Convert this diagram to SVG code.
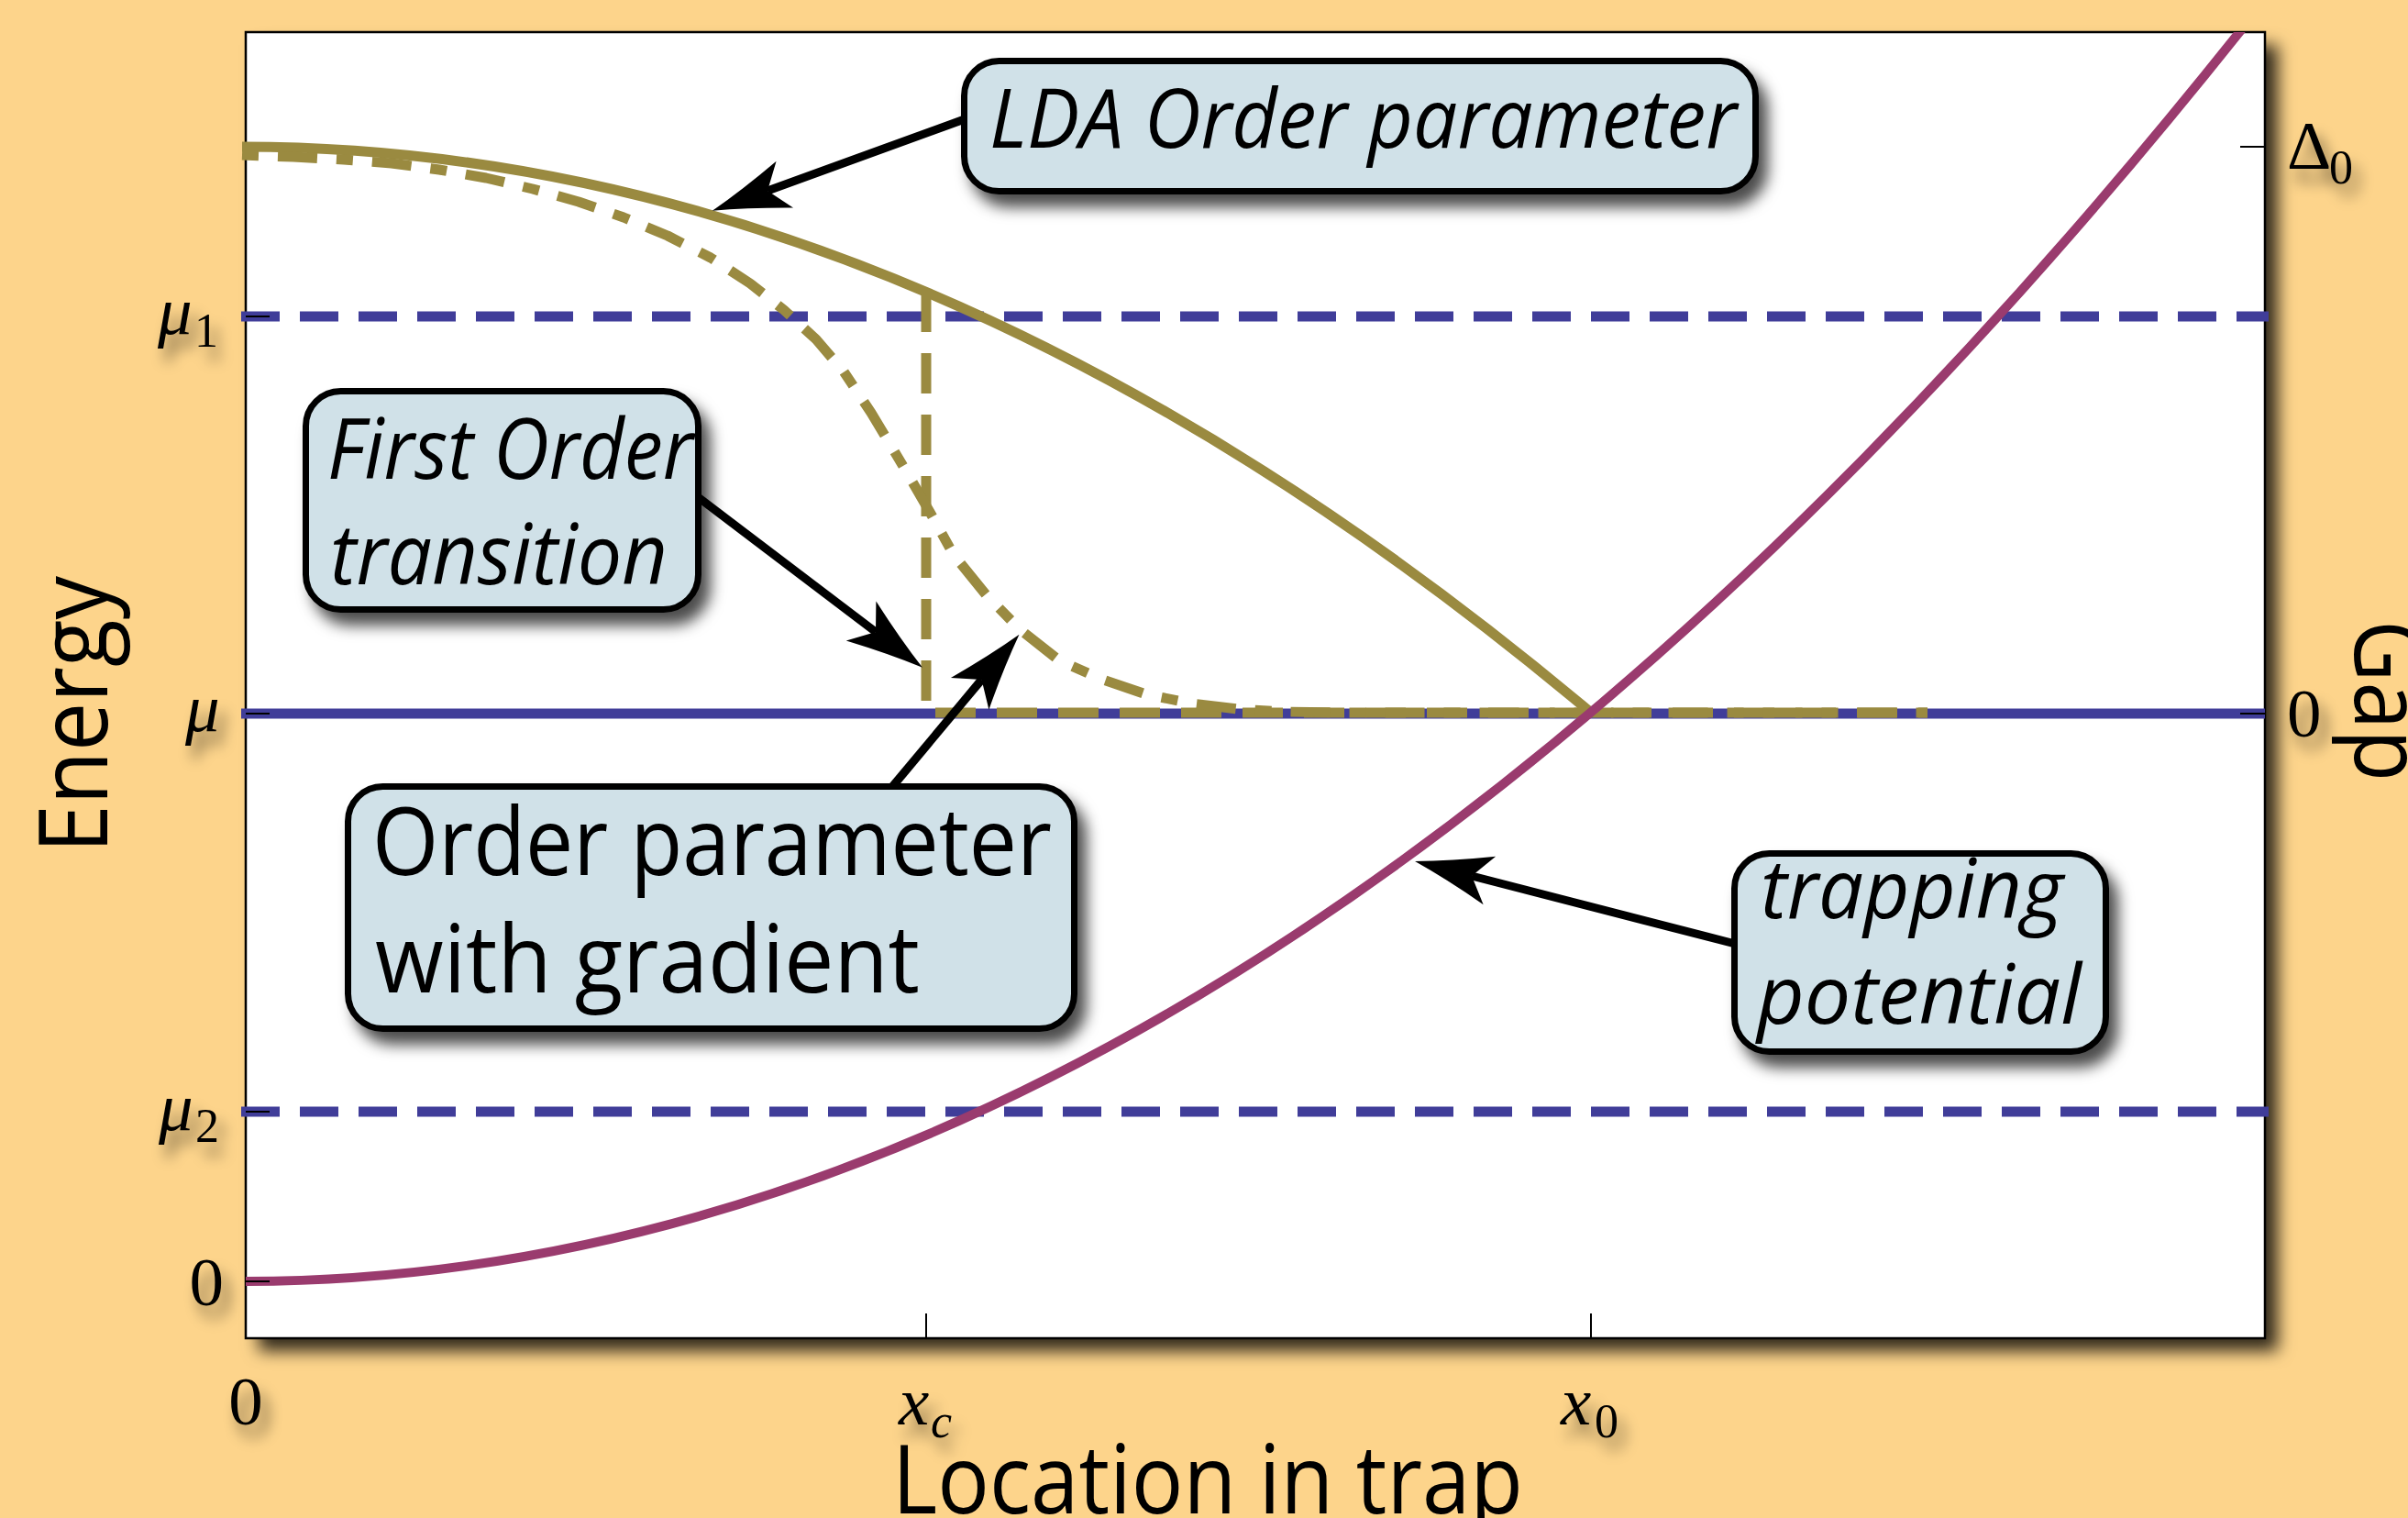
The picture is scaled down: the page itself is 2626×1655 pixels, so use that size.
<svg xmlns="http://www.w3.org/2000/svg" width="2626" height="1655" viewBox="0 0 2626 1655">
<defs>
<style>
.box{fill:#d0e1e8;stroke:#000;stroke-width:7}
.bt{font-family:"Open Sans","Liberation Sans",sans-serif;fill:#000}
.it{font-style:italic}
.tk{font-family:"Liberation Serif","Times New Roman",serif;font-size:75px;fill:#000}
.sub{font-size:52px}
.ax{font-family:"Open Sans","Liberation Sans",sans-serif;font-size:105px;fill:#000}
.tick{stroke:#000;stroke-width:2;fill:none}
.blue{stroke:#403d99;stroke-width:11;fill:none}
.gold{stroke:#9a8a40;stroke-width:11;fill:none}
.trap{stroke:#9a3b6e;stroke-width:10;fill:none}
.arrow{stroke:#000;stroke-width:9;fill:none;marker-end:url(#ah)}
</style>
<marker id="ah" markerUnits="userSpaceOnUse" viewBox="0 0 84 54" markerWidth="84" markerHeight="54" refX="20" refY="27" orient="auto" overflow="visible">
<path d="M84,27 Q46,17 0,0 L20,27 L0,54 Q46,37 84,27 Z" fill="#000"/>
</marker>
<filter id="plotShadow" x="-5%" y="-5%" width="115%" height="115%">
<feDropShadow dx="14" dy="14" stdDeviation="9" flood-color="#000" flood-opacity="0.8"/>
</filter>
<filter id="boxShadow" x="-20%" y="-20%" width="150%" height="160%">
<feDropShadow dx="10" dy="14" stdDeviation="8" flood-color="#000" flood-opacity="0.7"/>
</filter>
<filter id="txtShadow" x="-60%" y="-60%" width="260%" height="260%">
<feGaussianBlur in="SourceAlpha" stdDeviation="8" result="b"/>
<feOffset in="b" dx="8" dy="14" result="o"/>
<feComponentTransfer in="o" result="s"><feFuncA type="linear" slope="0.55"/></feComponentTransfer>
<feMerge><feMergeNode in="s"/><feMergeNode in="SourceGraphic"/></feMerge>
</filter>
<clipPath id="plotClip"><rect x="268" y="35" width="2202" height="1424"/></clipPath>
</defs>

<rect width="2626" height="1655" fill="#fdd48b"/>

<g id="plot-frame">
<rect x="268" y="35" width="2202" height="1424" fill="#fff" filter="url(#plotShadow)"/>
<rect x="268" y="35" width="2202" height="1424" fill="none" stroke="#000" stroke-width="2.5"/>
</g>

<g id="levels">
<line class="blue" x1="263" y1="345" x2="2474" y2="345" stroke-dasharray="42 22"/>
<line class="blue" x1="263" y1="778" x2="2470" y2="778"/>
<line class="blue" x1="263" y1="1212" x2="2474" y2="1212" stroke-dasharray="42 22"/>
</g>

<g id="order-parameter-curves">
<path id="lda" class="gold" d="M264,160 Q1001,160 1735,777"/>
<path id="first-order" class="gold" stroke-width="10" stroke-dasharray="44 23" d="M1010,318 L1010,777 L2102,777"/>
<polyline id="gradient" class="gold" stroke-width="10" stroke-dasharray="18 21 43 21" stroke-linejoin="round" points="264,169 320,171 375,174 427,178 479,185 530,194 581,206 631,220 680,237 728,257 775,281 818,309 855,338 890,370 920,405 950,450 986,510 1015,560 1040,605 1075,648 1112,686 1155,720 1200,740 1250,757 1300,767 1350,773 1400,776 1460,777 2102,777"/>
</g>

<g id="trapping-curve" clip-path="url(#plotClip)">
<path class="trap" d="M264,1397 Q1369,1397 2470,0"/>
</g>

<g id="ticks">
<line class="tick" x1="268" y1="345" x2="294" y2="345"/>
<line class="tick" x1="268" y1="778" x2="294" y2="778"/>
<line class="tick" x1="268" y1="1212" x2="294" y2="1212"/>
<line class="tick" x1="268" y1="1397" x2="294" y2="1397"/>
<line class="tick" x1="2443" y1="160" x2="2470" y2="160"/>
<line class="tick" x1="2443" y1="778" x2="2470" y2="778"/>
<line class="tick" x1="1010" y1="1432" x2="1010" y2="1459"/>
<line class="tick" x1="1735" y1="1432" x2="1735" y2="1459"/>
</g>

<g id="tick-labels" filter="url(#txtShadow)">
<text class="tk it" x="172" y="364">μ<tspan class="sub" font-style="normal" x="212" y="378">1</tspan></text>
<text class="tk it" x="202" y="797">μ</text>
<text class="tk it" x="173" y="1232">μ<tspan class="sub" font-style="normal" x="213" y="1245">2</tspan></text>
<text class="tk" x="244" y="1423" text-anchor="end">0</text>
<text class="tk" x="268" y="1553" text-anchor="middle">0</text>
<text class="tk it" x="980" y="1553">x<tspan class="sub" x="1015" y="1567">c</tspan></text>
<text class="tk it" x="1702" y="1553">x<tspan class="sub" font-style="normal" x="1739" y="1567">0</tspan></text>
<text class="tk" x="2494" y="184">Δ<tspan class="sub" x="2540" y="200">0</tspan></text>
<text class="tk" x="2494" y="803">0</text>
</g>

<g id="axis-titles">
<text class="ax" transform="translate(117,930) rotate(-90)" textLength="302" lengthAdjust="spacingAndGlyphs">Energy</text>
<text class="ax" transform="translate(2568,676) rotate(90)" textLength="176" lengthAdjust="spacingAndGlyphs">Gap</text>
<text class="ax" x="973" y="1650" textLength="688" lengthAdjust="spacingAndGlyphs">Location in trap</text>
</g>

<g id="connectors">
<line class="arrow" x1="1060" y1="127" x2="837" y2="208"/>
<line class="arrow" x1="752" y1="535" x2="955" y2="689"/>
<line class="arrow" x1="967" y1="865" x2="1070.5" y2="741"/>
<line class="arrow" x1="1900" y1="1031" x2="1605" y2="955"/>
</g>

<g id="box-lda">
<rect class="box" x="1051.5" y="66.5" width="863" height="142" rx="38" filter="url(#boxShadow)"/>
<text class="bt it" x="1079" y="161" font-size="90" textLength="815" lengthAdjust="spacingAndGlyphs">LDA Order parameter</text>
</g>

<g id="box-first-order">
<rect class="box" x="333.5" y="426.5" width="428" height="238" rx="38" filter="url(#boxShadow)"/>
<text class="bt it" x="357" y="522" font-size="92" textLength="399" lengthAdjust="spacingAndGlyphs">First Order</text>
<text class="bt it" x="360" y="637" font-size="92" textLength="368" lengthAdjust="spacingAndGlyphs">transition</text>
</g>

<g id="box-gradient">
<rect class="box" x="379.5" y="857.5" width="792" height="264" rx="38" filter="url(#boxShadow)"/>
<text class="bt" x="406" y="954" font-size="102" textLength="741" lengthAdjust="spacingAndGlyphs">Order parameter</text>
<text class="bt" x="409" y="1082" font-size="102" textLength="594" lengthAdjust="spacingAndGlyphs">with gradient</text>
</g>

<g id="box-trapping">
<rect class="box" x="1891.5" y="930.5" width="405" height="216" rx="38" filter="url(#boxShadow)"/>
<text class="bt it" x="1920" y="1001" font-size="90" textLength="330" lengthAdjust="spacingAndGlyphs">trapping</text>
<text class="bt it" x="1916" y="1116" font-size="90" textLength="354" lengthAdjust="spacingAndGlyphs">potential</text>
</g>
</svg>
